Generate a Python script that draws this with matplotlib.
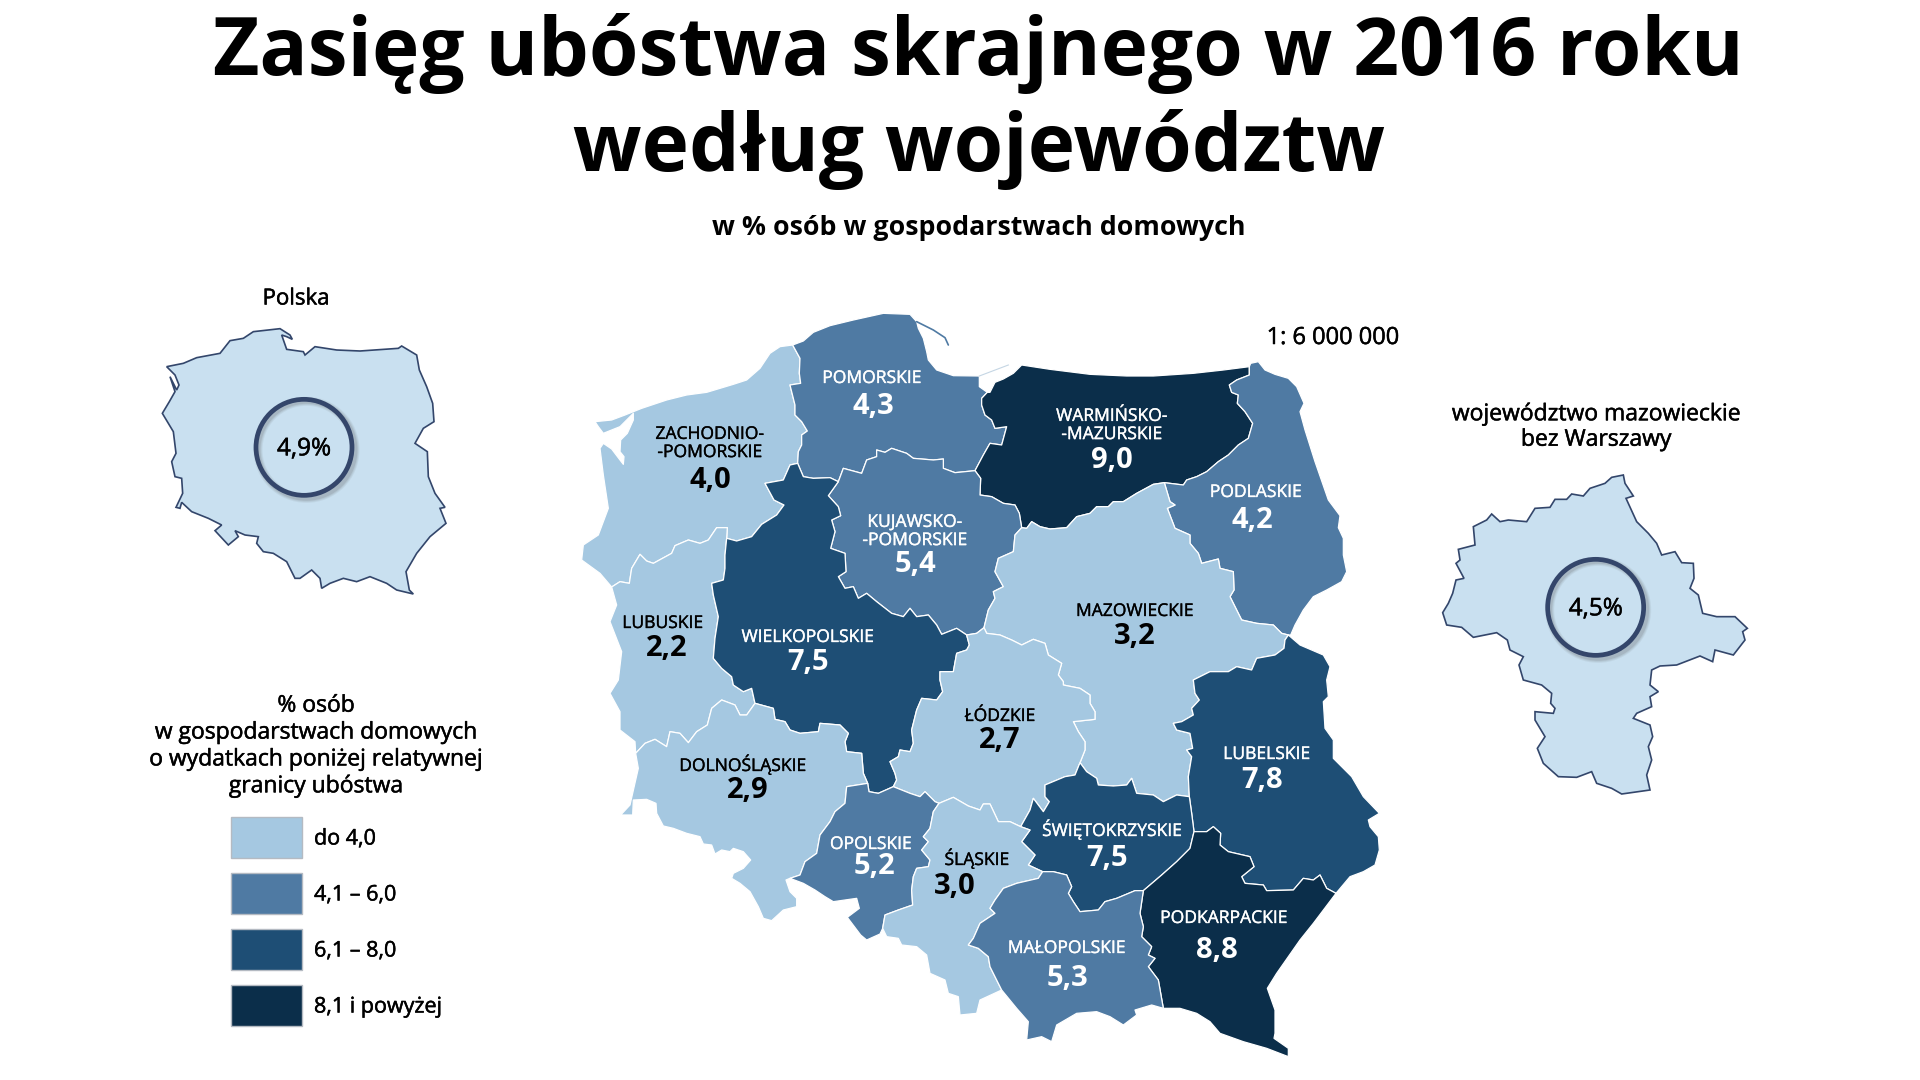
import matplotlib
matplotlib.use('Agg')
import matplotlib.pyplot as plt
import matplotlib.patheffects as pe
from matplotlib.patches import Polygon, Circle, Rectangle

plt.rcParams['font.family'] = ['Open Sans', 'DejaVu Sans']

W, H = 1920, 1080

LIGHT = '#A5C8E1'
MID = '#4F7AA3'
DARK = '#1E4E75'
DARKEST = '#0B2E4A'
INSET_FILL = '#C9E0F0'
INSET_EDGE = '#33466B'
RING = '#34466B'

title_lines = ['Zasięg ubóstwa skrajnego w 2016 roku', 'według województw']
subtitle = 'w % osób w gospodarstwach domowych'
scale_text = '1: 6 000 000'

# voivodeships
names = ['ZACHODNIO-\n-POMORSKIE', 'POMORSKIE', 'WARMIŃSKO-\n-MAZURSKIE', 'PODLASKIE',
         'KUJAWSKO-\n-POMORSKIE', 'MAZOWIECKIE', 'LUBUSKIE', 'WIELKOPOLSKIE', 'ŁÓDZKIE',
         'LUBELSKIE', 'DOLNOŚLĄSKIE', 'ŚWIĘTOKRZYSKIE', 'OPOLSKIE', 'ŚLĄSKIE',
         'PODKARPACKIE', 'MAŁOPOLSKIE']
values = [4.0, 4.3, 9.0, 4.2, 5.4, 3.2, 2.2, 7.5, 2.7, 7.8, 2.9, 7.5, 5.2, 3.0, 8.8, 5.3]
name_xy = [(710, 444), (872, 379), (1112, 426), (1256, 493), (915, 532), (1135, 612), (663, 624),
           (808, 638), (1000, 717), (1267, 755), (743, 765), (1112, 830), (871, 845), (977, 859),
           (1224, 919), (1067, 949)]
value_xy = [(710, 480), (873, 406), (1112, 460), (1252, 520), (915, 565), (1135, 636), (667, 649),
            (808, 663), (1000, 740), (1262, 780), (748, 790), (1107, 859), (874, 866), (955, 887),
            (1217, 950), (1067, 979)]

legend_labels = ['do 4,0', '4,1 – 6,0', '6,1 – 8,0', '8,1 i powyżej']
legend_colors = [LIGHT, MID, DARK, DARKEST]
legend_title = '% osób\nw gospodarstwach domowych\no wydatkach poniżej relatywnej\ngranicy ubóstwa'


# outlines were traced on four 3x crops of the map, these put them back in figure pixels
def crop(ox, oy, pts):
    return [(ox + x / 3, oy + y / 3) for x, y in pts]


def q1(pts):
    return crop(570, 305, pts)


def q2(pts):
    return crop(980, 305, pts)


def q3(pts):
    return crop(570, 680, pts)


def q4(pts):
    return crop(980, 680, pts)


# points where borders meet
A = q1([(668, 120)])
B = q1([(683, 475)])
C = q1([(805, 530)])
D = q1([(1215, 497)])
E = q2([(22, 262)])
F = q2([(808, 185)])
G = q2([(925, 990)])
J_H = q2([(553, 533)])
I = q2([(125, 668)])
J = q1([(1190, 990)])
K = q2([(12, 968)])
L = q4([(628, 350)])
M = q4([(300, 248)])
N = q4([(122, 440)])
P = q4([(642, 455)])
Q = q4([(1068, 640)])
R = q4([(550, 985)])
S = q4([(65, 930)])
T = q4([(490, 632)])
U = q4([(188, 575)])
V = q3([(938, 745)])
X_W = q3([(660, 595)])
X = q3([(197, 220)])
Y = q1([(125, 846)])
Z = q1([(470, 700)])
AA = q3([(555, 70)])
AB = q3([(893, 310)])
AC = q3([(970, 320)])
AD = q3([(1107, 370)])

# outer borders
zach_out = Y + q1([(90, 805), (35, 765), (40, 720), (85, 690), (115, 610), (100, 510), (90, 430), (100, 415), (125, 432),
                   (150, 465), (160, 478), (162, 455), (150, 440), (152, 405), (172, 385), (190, 345), (190, 325),
                   (150, 365), (125, 375), (100, 385), (85, 365), (75, 350), (125, 345), (165, 330), (215, 310),
                   (290, 285), (350, 270), (410, 262), (490, 238), (530, 225), (570, 190), (600, 145), (630, 125)]) + A
pom_out = A + q1([(700, 108), (730, 82), (780, 62), (850, 45), (940, 25), (1020, 28), (1040, 50), (1045, 70), (1060, 100),
                  (1070, 140), (1075, 165), (1100, 195), (1150, 212), (1228, 213), (1228, 245)]) + E
warm_out = E + q2([(30, 262), (45, 232), (70, 222), (100, 205), (125, 180), (210, 193), (330, 208), (440, 213), (520, 213),
                   (640, 205), (730, 195)]) + F
podl_out = F + q2([(812, 175), (835, 170), (855, 195), (885, 208), (925, 220), (950, 245), (972, 295), (960, 320),
                   (975, 375), (1005, 470), (1045, 585), (1080, 632), (1075, 668), (1090, 700), (1090, 750), (1100, 800),
                   (1085, 830), (1040, 855), (1000, 875), (970, 915), (945, 960), (932, 990)]) + G
lub_out = G + q2([(960, 1020), (1030, 1050), (1050, 1085)]) + q4([(1040, 0), (1045, 50), (1030, 65), (1035, 145), (1060, 180),
                                                                  (1060, 235), (1115, 290), (1150, 350), (1198, 400),
                                                                  (1165, 420), (1170, 440), (1195, 470), (1198, 510),
                                                                  (1185, 555), (1150, 575), (1110, 590)]) + Q
podk_out = Q + q4([(1000, 730), (960, 780), (890, 880), (862, 925), (885, 990), (885, 1060), (882, 1075), (925, 1105),
                   (925, 1130), (860, 1105), (790, 1085), (720, 1060), (690, 1025), (650, 1000), (600, 985)]) + R
malo_out = R + q4([(515, 975), (465, 990), (470, 1005), (430, 1035), (390, 1010), (350, 995), (290, 1000), (230, 1035),
                   (215, 1085), (185, 1070), (140, 1080), (145, 1025), (110, 985)]) + S
slask_out = S + q4([(0, 960)]) + q3([(1220, 1000), (1170, 1005), (1165, 950), (1135, 940), (1125, 900), (1080, 880),
                                     (1070, 825), (1040, 800), (995, 795), (985, 775), (950, 770)]) + V
opol_out = V + q3([(930, 762), (890, 780), (872, 765), (832, 712), (868, 685), (860, 655), (790, 665), (765, 650), (735, 630),
                   (700, 610)]) + X_W
doln_out = X_W + q3([(648, 600), (660, 635), (680, 655), (680, 680), (640, 690), (605, 722), (580, 715), (565, 680),
                     (540, 635), (510, 610), (485, 595), (490, 580), (520, 565), (542, 540), (520, 515), (490, 505),
                     (480, 515), (455, 510), (435, 522), (425, 495), (400, 492), (390, 470), (350, 460), (310, 445),
                     (280, 438), (260, 400), (258, 370), (230, 358), (190, 360), (188, 405), (152, 405), (180, 375),
                     (205, 265)]) + X
lubu_out = X + q3([(195, 185), (150, 150), (150, 95), (120, 40), (145, 0)]) + q1([(155, 1040), (120, 950), (140, 900)]) + Y

# thin sand spits, too narrow for a polygon with a white edge
hel_spit = q1([(1040, 50), (1090, 75), (1125, 98), (1135, 120)])
vistula_spit = q1([(1228, 213)]) + q2([(85, 180)])

# inner borders
zach_pom = A + q1([(690, 160), (688, 205), (692, 235), (660, 240), (675, 300), (675, 330), (695, 350), (712, 378), (695, 390),
                   (695, 420), (685, 440)]) + B
wlkp_pom = B + q1([(700, 515), (730, 520), (780, 518)]) + C
pom_kuj = C + q1([(820, 490), (875, 505), (890, 465), (920, 455), (920, 435), (945, 442), (965, 430), (1010, 445), (1030, 460),
                  (1090, 465), (1120, 462), (1120, 490), (1155, 503)]) + D
warm_pom = D + q1([(1240, 450)]) + q2([(30, 415), (65, 420), (80, 365), (45, 370), (35, 345), (15, 330), (5, 300), (5, 280)]) + E
warm_kuj = I + q2([(118, 625), (105, 600), (70, 595), (35, 575), (0, 570)]) + q1([(1232, 520)]) + D
warm_maz = J_H + q2([(520, 538), (470, 565), (430, 590), (400, 590), (385, 605), (350, 605), (330, 625), (290, 635), (260, 668),
                     (210, 672), (180, 665), (155, 650), (140, 670)]) + I
warm_podl = F + q2([(808, 210), (770, 225), (748, 240), (755, 262), (775, 270), (772, 295), (795, 320), (818, 355), (805, 400),
                    (775, 420), (745, 450), (715, 470), (680, 500), (650, 515), (620, 525), (610, 540)]) + J_H
podl_maz = J_H + q2([(570, 590), (585, 600), (562, 610), (585, 670), (630, 690), (630, 715), (655, 745), (665, 775), (715, 762),
                     (720, 790), (760, 800), (762, 855), (750, 875), (785, 945), (830, 955), (880, 960), (905, 985)]) + G
maz_kuj = K + q2([(25, 915), (45, 880), (40, 860), (70, 845), (45, 800), (55, 760), (100, 740), (105, 690)]) + I
kuj_wlkp = C + q1([(775, 572), (805, 605), (812, 632), (785, 645), (795, 680), (782, 730), (825, 745), (828, 800), (805, 815),
                   (825, 850), (850, 845), (865, 880), (890, 865), (920, 890), (965, 925), (1000, 935), (1020, 910),
                   (1040, 935), (1075, 930), (1100, 960), (1115, 988), (1160, 970)]) + J
kuj_lodz = J + q1([(1220, 985)]) + K
maz_lub = G + q2([(915, 1005), (912, 1030), (885, 1050), (830, 1060), (815, 1095), (770, 1085), (745, 1100), (690, 1100)]) + \
    q4([(640, 0), (645, 40), (658, 60), (635, 85), (640, 105), (605, 125), (580, 130), (590, 150), (630, 160), (638, 205),
        (620, 210), (635, 230), (625, 290)]) + L
maz_swie = L + q4([(590, 345), (550, 365), (520, 345), (470, 340), (455, 295), (440, 315), (400, 318), (355, 315), (350, 295),
                   (320, 275)]) + M
maz_lodz = M + q4([(315, 210), (315, 185), (295, 155), (280, 125), (345, 118), (345, 95), (330, 70), (330, 45), (300, 25),
                   (250, 15)]) + q2([(250, 1130), (235, 1110), (245, 1075), (205, 1050), (195, 1015), (160, 1003), (125, 1020),
                                     (95, 1005), (60, 990), (20, 985)]) + K
lodz_swie = M + q4([(285, 285), (255, 290), (195, 315), (195, 350), (208, 365), (190, 395), (160, 355), (150, 390)]) + N
lub_swie = L + q4([(635, 400)]) + P
swie_podk = P + q4([(630, 505), (590, 545), (545, 585)]) + T
lub_podk = P + q4([(680, 455), (700, 440), (722, 460), (720, 495), (745, 515), (810, 530), (822, 560), (785, 590), (795, 610),
                   (850, 615), (860, 632), (940, 630), (970, 595), (1000, 600), (1020, 585), (1040, 625)]) + Q
malo_podk = T + q4([(480, 700), (490, 740), (485, 770), (515, 800), (505, 825), (525, 835), (505, 860), (535, 900)]) + R
malo_swie = T + q4([(465, 632), (410, 655), (375, 665), (355, 690), (300, 695), (280, 665), (265, 640), (275, 620), (260, 585),
                    (220, 575)]) + U
slask_swie = N + q4([(150, 450), (125, 485), (165, 525), (145, 555)]) + U
slask_malo = U + q4([(175, 595), (110, 610), (70, 625), (45, 660), (30, 685), (45, 700), (0, 730)]) + \
    q3([(1210, 775), (1195, 795), (1225, 805), (1255, 830), (1260, 860)]) + S
lubu_zach = Y + q1([(150, 830), (178, 835), (185, 790), (210, 748), (230, 768), (250, 775), (305, 745), (315, 722), (355, 705),
                    (390, 715), (415, 705), (440, 668), (472, 668)]) + Z
wlkp_zach = Z + q1([(500, 708), (545, 695), (575, 658), (620, 630), (642, 600), (612, 585), (585, 535), (640, 525), (660, 480)]) + B
wlkp_lubu = Z + q1([(465, 750), (465, 790), (460, 825), (425, 835), (430, 870), (445, 935), (435, 1000), (430, 1060), (455, 1090),
                    (485, 1115)]) + q3([(490, 15), (520, 35), (545, 25)]) + AA
wlkp_doln = AA + q3([(610, 85), (615, 118), (645, 125), (660, 150), (690, 160), (745, 155), (750, 130), (810, 135), (835, 160),
                     (825, 185), (830, 215), (875, 220), (880, 280)]) + AB
wlkp_opol = AB + q3([(897, 335), (925, 340)]) + AC
wlkp_lodz = J + q1([(1198, 1020), (1190, 1035), (1160, 1045), (1150, 1100), (1110, 1100)]) + \
    q3([(1110, 0), (1118, 35), (1100, 60), (1055, 55), (1040, 90), (1025, 150), (1030, 190), (1020, 215), (990, 210), (985, 230),
        (960, 245), (975, 280), (980, 300)]) + AC
doln_lubu = X + q3([(225, 190), (255, 178), (290, 200), (300, 155), (330, 160), (355, 188), (380, 155), (412, 135), (425, 85),
                    (455, 60), (495, 75), (510, 105), (530, 105)]) + AA
doln_opol = AB + q3([(830, 320), (825, 370), (795, 395), (780, 425), (750, 465), (740, 520), (705, 545), (690, 585)]) + X_W
opol_lodz = AC + q3([(1020, 340), (1050, 350), (1065, 335), (1095, 365)]) + AD
opol_slask = AD + q3([(1090, 395), (1080, 445), (1060, 470), (1075, 485), (1055, 510), (1080, 540), (1075, 560), (1040, 565),
                      (1030, 590), (1025, 630), (1028, 675), (985, 690), (945, 705)]) + V
lodz_slask = AD + q3([(1150, 352), (1195, 378), (1230, 390), (1240, 372), (1260, 372)]) + q4([(55, 425), (90, 425)]) + N

poland_outline = [(110, 290), (160, 280), (200, 263), (270, 250), (300, 212), (340, 205), (370, 185), (450, 176),
                  (480, 195), (487, 208), (470, 200), (455, 195), (470, 238), (520, 245), (525, 255), (555, 230),
                  (620, 240), (690, 243), (805, 235), (815, 228), (860, 255), (868, 300), (890, 350), (908, 400),
                  (912, 455), (880, 475), (855, 520), (892, 545), (895, 620), (915, 670), (945, 712), (930, 715),
                  (948, 760), (900, 800), (860, 850), (828, 905), (838, 960), (850, 972), (800, 960), (770, 940),
                  (720, 920), (680, 935), (640, 925), (600, 940), (575, 955), (570, 925), (545, 900), (510, 925),
                  (495, 925), (470, 875), (430, 850), (400, 845), (380, 820), (385, 800), (345, 795), (315, 782),
                  (325, 800), (295, 825), (255, 782), (275, 765), (235, 745), (185, 725), (155, 697), (150, 715),
                  (138, 712), (158, 670), (155, 625), (135, 620), (125, 575), (138, 550), (130, 485), (97, 430),
                  (118, 395), (135, 365), (120, 320), (140, 360), (147, 345), (135, 315)]
mazow_outline = [(610, 255), (575, 262), (555, 280), (510, 295), (490, 318), (455, 312), (440, 328), (405, 328),
                 (390, 352), (345, 355), (320, 395), (265, 390), (240, 395), (215, 372), (200, 390), (160, 410),
                 (165, 465), (115, 478), (120, 510), (108, 520), (132, 565), (108, 570), (98, 610), (85, 640),
                 (68, 668), (80, 705), (125, 712), (160, 742), (230, 728), (262, 750), (270, 780), (310, 800),
                 (297, 825), (310, 870), (365, 885), (395, 910), (392, 940), (405, 955), (400, 970), (345, 965),
                 (345, 990), (375, 1040), (352, 1075), (370, 1120), (415, 1160), (470, 1162), (515, 1145), (530, 1180),
                 (575, 1195), (605, 1212), (690, 1200), (680, 1155), (695, 1110), (685, 1070), (698, 1040), (690, 1005),
                 (640, 985), (650, 970), (695, 950), (690, 920), (715, 905), (690, 885), (695, 840), (720, 828),
                 (770, 825), (840, 798), (878, 815), (885, 780), (940, 795), (975, 750), (968, 725), (982, 715),
                 (945, 680), (890, 680), (848, 670), (835, 615), (810, 595), (822, 565), (820, 520), (785, 518),
                 (765, 485), (725, 495), (710, 460), (685, 430), (650, 395), (618, 325), (640, 318), (615, 280)]


def r(border):
    return border[::-1]


regions = [
    zach_out + zach_pom + r(wlkp_zach) + r(lubu_zach),
    pom_out + r(warm_pom) + r(pom_kuj) + r(wlkp_pom) + r(zach_pom),
    warm_out + warm_podl + warm_maz + warm_kuj + warm_pom,
    podl_out + r(podl_maz) + r(warm_podl),
    pom_kuj + r(warm_kuj) + r(maz_kuj) + r(kuj_lodz) + r(kuj_wlkp),
    r(warm_maz) + podl_maz + maz_lub + maz_swie + maz_lodz + maz_kuj,
    lubu_out + lubu_zach + wlkp_lubu + r(doln_lubu),
    wlkp_zach + wlkp_pom + kuj_wlkp + wlkp_lodz + r(wlkp_opol) + r(wlkp_doln) + r(wlkp_lubu),
    kuj_lodz + r(maz_lodz) + lodz_swie + r(lodz_slask) + r(opol_lodz) + r(wlkp_lodz),
    lub_out + r(lub_podk) + r(lub_swie) + r(maz_lub),
    doln_out + doln_lubu + wlkp_doln + doln_opol,
    r(maz_swie) + lub_swie + swie_podk + malo_swie + r(slask_swie) + r(lodz_swie),
    wlkp_opol + opol_lodz + opol_slask + opol_out + r(doln_opol),
    lodz_slask + slask_swie + slask_malo + slask_out + r(opol_slask),
    lub_podk + podk_out + r(malo_podk) + r(swie_podk),
    malo_podk + malo_out + r(slask_malo) + r(malo_swie),
]


def value_color(v):
    if v <= 4.0:
        return LIGHT
    if v <= 6.0:
        return MID
    if v <= 8.0:
        return DARK
    return DARKEST


def semi(color='black', w=0.35):
    # Open Sans comes in regular and bold here, a thin stroke gives the semibold look
    return [pe.withStroke(linewidth=w, foreground=color)]


def ring(x, y, txt):
    for i, alpha in enumerate([0.08, 0.10, 0.14]):
        ax.add_patch(Circle((x + 2.5, y + 2.5), 48.5, fill=False, ec='#555555', lw=6.5 - 1.5 * i, alpha=alpha))
    ax.add_patch(Circle((x, y), 48, fill=False, ec=RING, lw=3.4))
    ax.text(x, y + 2, txt, ha='center', va='center', fontsize=17.5, color='black', path_effects=semi())


fig = plt.figure(figsize=(W / 100, H / 100), dpi=100)
ax = fig.add_axes([0, 0, 1, 1])
ax.set_xlim(0, W)
ax.set_ylim(H, 0)
ax.axis('off')

ax.text(978, 54, title_lines[0], ha='center', va='center', fontsize=57.7, fontweight='bold')
ax.text(979, 150, title_lines[1], ha='center', va='center', fontsize=57.7, fontweight='bold')
ax.text(979, 228, subtitle, ha='center', va='center', fontsize=19.3, fontweight='bold')
ax.text(1333, 338, scale_text, ha='center', va='center', fontsize=17, path_effects=semi())
ax.text(296, 299, 'Polska', ha='center', va='center', fontsize=16, path_effects=semi())
ax.text(1596, 427, 'województwo mazowieckie\nbez Warszawy', ha='center', va='center', fontsize=16.5,
        linespacing=1.08, path_effects=semi())

# legend
ax.text(316, 746, legend_title, ha='center', va='center', fontsize=16.5, linespacing=1.16, path_effects=semi())
for i, (lab, col) in enumerate(zip(legend_labels, legend_colors)):
    top = 817 + i * 56
    ax.add_patch(Rectangle((231, top), 71, 41, fc=col, ec='#B4BAC2', lw=1))
    ax.text(314, top + 22, lab, ha='left', va='center', fontsize=15.5, path_effects=semi())

# main map
for poly, v in zip(regions, values):
    ax.add_patch(Polygon(poly, closed=True, fc=value_color(v), ec='white', lw=0.9, joinstyle='round'))
ax.plot(*zip(*hel_spit), color=MID, lw=1.2, solid_capstyle='round')
ax.plot(*zip(*vistula_spit), color='#C5D6E4', lw=0.8)
for name, v, nxy, vxy in zip(names, values, name_xy, value_xy):
    tc = 'black' if v <= 4.0 else 'white'
    ax.text(nxy[0], nxy[1], name, ha='center', va='center', fontsize=12.6, color=tc, linespacing=1.18,
            path_effects=semi(tc, 0.25))
    ax.text(vxy[0], vxy[1], f'{v:.1f}'.replace('.', ','), ha='center', va='center', fontsize=21,
            fontweight='bold', color=tc)

# small maps
ax.add_patch(Polygon(crop(130, 270, poland_outline), closed=True, fc=INSET_FILL, ec=INSET_EDGE, lw=1.2))
ring(130 + 522 / 3, 270 + 532 / 3, '4,9%')

ax.add_patch(Polygon(crop(1420, 390, mazow_outline), closed=True, fc=INSET_FILL, ec=INSET_EDGE, lw=1.2))
ring(1420 + 527 / 3, 390 + 652 / 3, '4,5%')

ax.set_xlim(0, W)
ax.set_ylim(H, 0)
fig.savefig('out.png', dpi=100, facecolor='white')
